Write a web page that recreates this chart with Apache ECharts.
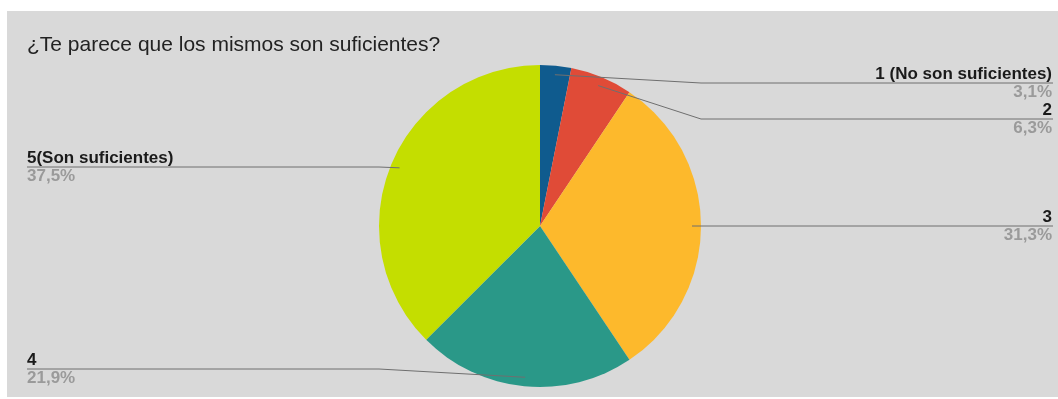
<!DOCTYPE html>
<html>
<head>
<meta charset="utf-8">
<script src="https://cdn.jsdelivr.net/npm/echarts@6/dist/echarts.min.js"></script>
<style>
html,body{margin:0;padding:0;background:#ffffff;}
#chart{width:1058px;height:399px;}
</style>
</head>
<body>
<div id="chart"></div>
<script>
// Data
var TITLE = '¿Te parece que los mismos son suficientes?';
var categories = ['1 (No son suficientes)', '2', '3', '4', '5(Son suficientes)'];
var counts = [1, 2, 10, 7, 12];
var percentLabels = ['3,1%', '6,3%', '31,3%', '21,9%', '37,5%'];
var colors = ['#0f5b8e', '#e04b37', '#fdb92c', '#2a9888', '#c4de00'];

// Layout (label line y positions for each slice)
var LABEL_LINE_Y = [83, 119, 226, 369, 167];
var CX = 540, CY = 226, R = 161, R_LINE = 152;
var RIGHT_X = 1053, LEFT_X = 27;
var FONT = '"Liberation Sans", Arial, sans-serif';

var chart = echarts.init(document.getElementById('chart'), null, {renderer: 'canvas'});

var dataVisible = categories.map(function (c, i) {
  return {name: c, value: counts[i], itemStyle: {color: colors[i]}};
});
var dataLabels = categories.map(function (c, i) {
  return {name: c, value: counts[i]};
});

chart.setOption({
  backgroundColor: '#ffffff',
  animation: false,
  graphic: [{
    type: 'rect', z: -10, silent: true,
    shape: {x: 7, y: 11, width: 1051, height: 386},
    style: {fill: '#d9d9d9'}
  }],
  title: {
    text: TITLE,
    left: 22, top: 30,
    textStyle: {fontFamily: FONT, fontSize: 21, fontWeight: 'normal', color: '#222222'}
  },
  series: [{
    type: 'pie',
    center: [CX, CY],
    radius: [0, R],
    startAngle: 90,
    clockwise: true,
    silent: true,
    label: {show: false},
    labelLine: {show: false},
    itemStyle: {borderWidth: 0},
    data: dataVisible
  }, {
    type: 'pie',
    center: [CX, CY],
    radius: [0, R_LINE],
    startAngle: 90,
    clockwise: true,
    silent: true,
    z: 5,
    itemStyle: {color: 'rgba(0,0,0,0)', borderWidth: 0},
    label: {
      show: true,
      position: 'outside',
      formatter: function (p) {
        return '{n|' + p.name + '}\n{p|' + percentLabels[p.dataIndex] + '}';
      },
      rich: {
        n: {fontFamily: FONT, fontSize: 17, fontWeight: 'bold', color: '#1a1a1a', lineHeight: 18},
        p: {fontFamily: FONT, fontSize: 17, fontWeight: 'bold', color: '#9a9a9a', lineHeight: 18}
      }
    },
    labelLine: {show: true, length: 10, length2: 10, lineStyle: {color: '#6f6f6f', width: 1}},
    labelLayout: function (params) {
      var i = params.dataIndex;
      var pts = params.labelLinePoints;
      var start = pts[0];
      var right = start[0] >= CX;
      var ly = LABEL_LINE_Y[i];
      var elbowX = right ? Math.max(start[0], CX + R) : Math.min(start[0], CX - R);
      var endX = right ? RIGHT_X : LEFT_X;
      return {
        x: right ? RIGHT_X - 1 : LEFT_X,
        y: ly,
        align: right ? 'right' : 'left',
        verticalAlign: 'middle',
        labelLinePoints: [[start[0], start[1]], [elbowX, ly], [endX, ly]]
      };
    },
    data: dataLabels
  }]
});
</script>
</body>
</html>
